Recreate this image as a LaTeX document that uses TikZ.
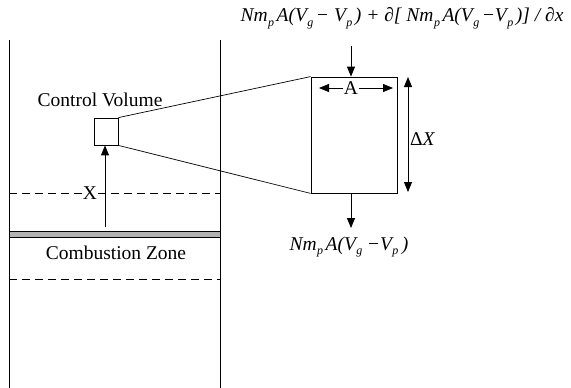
\documentclass[tikz,border=0pt]{standalone}
\usepackage{fontspec}
\setmainfont{Liberation Serif}
\usetikzlibrary{arrows.meta}
\newcommand{\sbp}[1]{\kern0.5pt\raisebox{-0.55ex}{\fontsize{12}{13}\selectfont #1}\kern2.5pt}
\tikzset{
  wall/.style={line width=0.8pt},
  dashln/.style={line width=0.7pt, dash pattern=on 8pt off 5pt},
  arr/.style={line width=0.9pt, -{Triangle[length=10pt,width=8pt]}},
  darr/.style={line width=0.9pt, {Triangle[length=10pt,width=8pt]}-{Triangle[length=10pt,width=8pt]}},
  lbl/.style={font=\fontsize{19.5}{21}\selectfont, inner sep=1pt},
  frm/.style={font=\fontsize{19.5}{21}\selectfont\itshape, inner sep=1pt},
}
\begin{document}
\begin{tikzpicture}[x=1pt,y=-1pt]
\useasboundingbox (0,0) rectangle (571,388);
% walls
\coordinate (wlt) at (9,40); \coordinate (wlb) at (9,388);
\coordinate (wrt) at (220,40); \coordinate (wrb) at (220,388);
\draw[wall] (wlt) -- (wlb);
\draw[wall] (wrt) -- (wrb);
% dashed line with X
\node[lbl] (X) at (90,193) {X};
\coordinate (d1l) at (9,193); \coordinate (d1r) at (220,193);
\draw[dashln] (d1l) -- (X.west);
\draw[dashln] (X.east) -- (d1r);
% combustion bar
\node[draw, line width=0.8pt, fill=gray!60, minimum width=211pt, minimum height=6pt, inner sep=0pt] (bar) at (114.5,234) {};
\node[lbl] (cz) at (116,253) {Combustion Zone};
\coordinate (d2l) at (9,279); \coordinate (d2r) at (220,279);
\draw[dashln] (d2l) -- (d2r);
% control volume
\node[draw, line width=0.8pt, minimum width=24pt, minimum height=27pt, inner sep=0pt] (cv) at (106,131.5) {};
\node[lbl] (cvl) at (100,100) {Control Volume};
\coordinate (ab) at (105,227);
\draw[arr] (ab) -- (cv.south -| ab);
% big box
\node[draw, line width=0.8pt, minimum width=86pt, minimum height=116pt, inner sep=0pt] (bb) at (354,135) {};
\draw[line width=0.7pt] (cv.north east) -- (bb.north west);
\draw[line width=0.7pt] (cv.south east) -- (bb.south west);
% A arrow
\node[lbl, fill=white, inner sep=0.5pt] (A) at (351,88) {A};
\coordinate (al) at (319,88); \coordinate (ar) at (393,88);
\draw[arr] (A.west) -- (al);
\draw[arr] (A.east) -- (ar);
% Delta X
\coordinate (dxt) at (408,77); \coordinate (dxb) at (408,192);
\draw[darr] (dxt) -- (dxb);
\node[lbl, anchor=west, inner sep=0pt] (dx) at (410,139) {Δ\textit{X}};
% top flux
\node[frm] (top) at (402,18) {Nm\sbp{p}A(V\sbp{g} − V\sbp{p}) + ∂[ Nm\sbp{p}A(V\sbp{g} −V\sbp{p})] / ∂x};
\coordinate (ta) at (351,46);
\draw[arr] (ta) -- (bb.north -| ta);
% bottom flux
\node[frm] (bot) at (349,247) {Nm\sbp{p}A(V\sbp{g}\kern2pt −V\sbp{p}\kern1pt)};
\coordinate (ba) at (351,228);
\draw[arr] (bb.south -| ba) -- (ba);
\end{tikzpicture}
\end{document}
